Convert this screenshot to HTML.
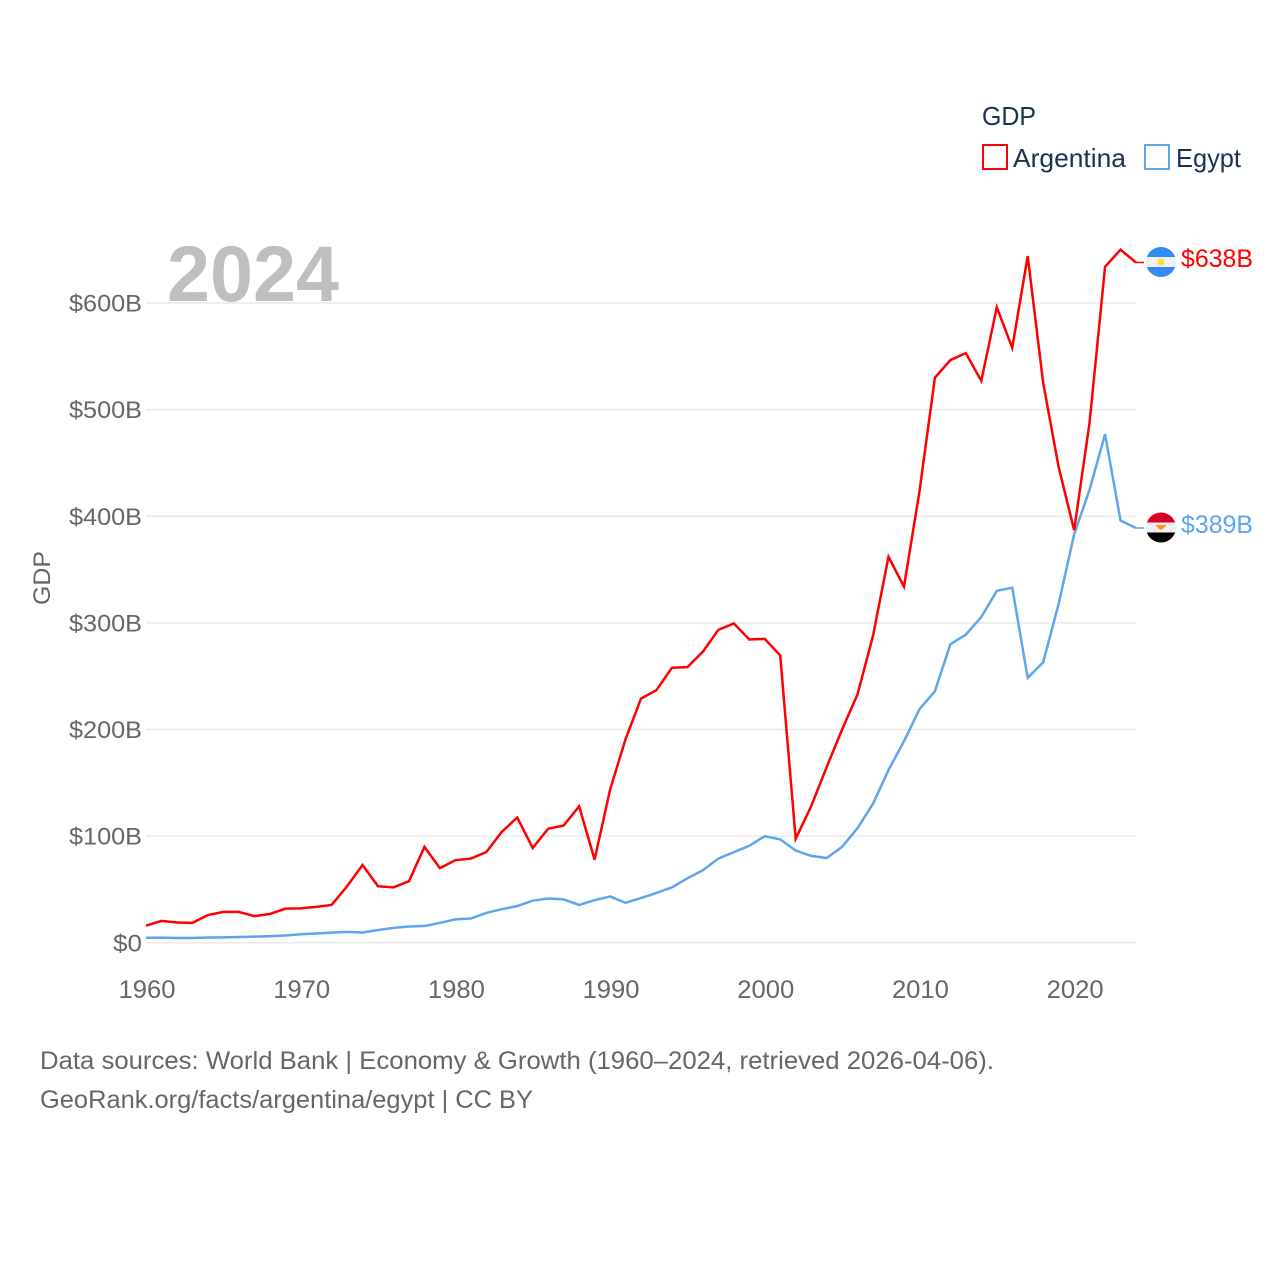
<!DOCTYPE html>
<html>
<head>
<meta charset="utf-8">
<title>GDP: Argentina and Egypt</title>
<style>
html,body{margin:0;padding:0;background:#fff;width:1280px;height:1280px;overflow:hidden}
svg{display:block}
text{font-family:"Liberation Sans",sans-serif}
</style>
</head>
<body>
<svg id="chart" xmlns="http://www.w3.org/2000/svg" width="1280" height="1280" viewBox="0 0 1280 1280">
  <rect width="1280" height="1280" fill="#fff"/>
  <g id="grid"></g>
  <text x="167" y="301" font-size="79" font-weight="700" fill="#bfbfbf" textLength="172" lengthAdjust="spacingAndGlyphs">2024</text>
  <g id="yaxis"></g>
  <g id="xaxis"></g>
  <text transform="translate(50,578) rotate(-90)" text-anchor="middle" font-size="24" fill="#666" textLength="54" lengthAdjust="spacingAndGlyphs">GDP</text>
  <g id="series"></g>

  <g>
    <text x="982" y="125" font-size="26" fill="#1a3154" textLength="54" lengthAdjust="spacingAndGlyphs">GDP</text>
    <g>
      <rect x="983" y="145" width="24" height="24" fill="#fff" stroke="#ff0000" stroke-width="2"/>
      <text x="1013" y="167" font-size="26" fill="#1a3154" textLength="113" lengthAdjust="spacingAndGlyphs">Argentina</text>
    </g>
    <g>
      <rect x="1145" y="145" width="24" height="24" fill="#fff" stroke="#5da5ee" stroke-width="2"/>
      <text x="1176" y="167" font-size="26" fill="#1a3154" textLength="65" lengthAdjust="spacingAndGlyphs">Egypt</text>
    </g>
  </g>

  <defs>
    <clipPath id="flag-clip-ar"><circle cx="1161" cy="262" r="15"/></clipPath>
    <clipPath id="flag-clip-eg"><circle cx="1161" cy="527.5" r="15"/></clipPath>
  </defs>
  <g clip-path="url(#flag-clip-ar)">
    <rect x="1146" y="247" width="30" height="10" fill="#338af3"/>
    <rect x="1146" y="257" width="30" height="10" fill="#f0f0f0"/>
    <rect x="1146" y="267" width="30" height="10" fill="#338af3"/>
    <circle cx="1161" cy="262" r="3.5" fill="#ffda44"/>
  </g>
  <g clip-path="url(#flag-clip-eg)">
    <rect x="1146" y="512.5" width="30" height="10" fill="#d80027"/>
    <rect x="1146" y="522.5" width="30" height="10" fill="#f0f0f0"/>
    <rect x="1146" y="532.5" width="30" height="10" fill="#000"/>
    <path d="M1155.5 525 L1166.5 525 L1163.5 528.5 L1161 530 L1158.5 528.5 Z" fill="#ff9811"/>
  </g>
  <text x="1181" y="267" font-size="25" fill="#ff0000" textLength="72" lengthAdjust="spacingAndGlyphs">$638B</text>
  <text x="1181" y="533" font-size="25" fill="#5da5ee" textLength="72" lengthAdjust="spacingAndGlyphs">$389B</text>

  <g>
    <text x="40" y="1069" font-size="25" fill="#666" textLength="954" lengthAdjust="spacingAndGlyphs">Data sources: World Bank | Economy &amp; Growth (1960–2024, retrieved 2026-04-06).</text>
    <text x="40" y="1108" font-size="25" fill="#666" textLength="493" lengthAdjust="spacingAndGlyphs">GeoRank.org/facts/argentina/egypt | CC BY</text>
  </g>
</svg>
<script>
var years = [1960,1961,1962,1963,1964,1965,1966,1967,1968,1969,1970,1971,1972,1973,1974,1975,1976,1977,1978,1979,1980,1981,1982,1983,1984,1985,1986,1987,1988,1989,1990,1991,1992,1993,1994,1995,1996,1997,1998,1999,2000,2001,2002,2003,2004,2005,2006,2007,2008,2009,2010,2011,2012,2013,2014,2015,2016,2017,2018,2019,2020,2021,2022,2023,2024];
var argentina = [16,20.5,19,18.7,26,29,29,25,27,32,32.3,33.7,35.5,53,73,53,52,57.7,90,70,77.5,79,85,104,117.5,89,107,110,128,78,143.5,191,229,237,258,258.5,273,293.5,299.5,284.5,285,269.5,97.5,128,164.7,200,233,288,362,334,423,530,546.5,553,527,596,558,644,525,446,387,488,634,650,638];
var egypt = [4.7,4.8,4.5,4.5,5,5.1,5.5,5.8,6.2,6.9,8,8.7,9.5,10.3,9.7,12,14,15.3,15.7,18.7,22,22.8,28,31.5,34.5,39.5,41.5,40.7,35.5,40,43.5,37.5,42,46.8,52,60.5,68,79,85,91,100,97,86.5,81.5,79.5,90,107.5,130.5,162,189,219,236,280,289,305.5,330,333,248.5,263,318,383,425,477,396,389];
var yTickValues = [0,100,200,300,400,500,600];
var yTickLabels = ["$0","$100B","$200B","$300B","$400B","$500B","$600B"];
var xTickValues = [1960,1970,1980,1990,2000,2010,2020];
var xTickLabels = ["1960","1970","1980","1990","2000","2010","2020"];

var NS = "http://www.w3.org/2000/svg";
function xScale(year){ return 146 + (year - 1960) * (1136 - 146) / 64; }
function yScale(v){ return 942.8 - v * (942.8 - 303) / 600; }
function mk(tag, attrs, parent){
  var el = document.createElementNS(NS, tag);
  for (var k in attrs) el.setAttribute(k, attrs[k]);
  parent.appendChild(el);
  return el;
}
var gridG = document.getElementById("grid");
var yG = document.getElementById("yaxis");
var xG = document.getElementById("xaxis");
var seriesG = document.getElementById("series");

yTickValues.forEach(function(v, i){
  var line = mk("line", {x1:146, x2:1136, y1:yScale(v), y2:yScale(v), stroke:"#e9e9e9", "stroke-width":1.5}, gridG);
  
  
  var t = mk("text", {x:142, y:yScale(v) + 8.5, "text-anchor":"end", "font-size":24, fill:"#666"}, yG);
  
  
  t.textContent = yTickLabels[i];
  t.setAttribute('textLength', i === 0 ? 29 : 73);
  t.setAttribute('lengthAdjust', 'spacingAndGlyphs');
});
xTickValues.forEach(function(y, i){
  var t = mk("text", {x:xScale(y) + 1, y:998, "text-anchor":"middle", "font-size":25, fill:"#666"}, xG);
  
  
  t.textContent = xTickLabels[i];
  t.setAttribute('textLength', 57);
  t.setAttribute('lengthAdjust', 'spacingAndGlyphs');
});
function pathFor(values){
  return values.map(function(v, i){
    return (i ? "L" : "M") + xScale(years[i]).toFixed(2) + " " + yScale(v).toFixed(2);
  }).join(" ");
}
var egyptLine = mk("path", {d:pathFor(egypt), fill:"none", stroke:"#5da5ee", "stroke-width":2.5, "stroke-linejoin":"miter"}, seriesG);


var argentinaLine = mk("path", {d:pathFor(argentina), fill:"none", stroke:"#ff0000", "stroke-width":2.5, "stroke-linejoin":"miter"}, seriesG);


var lastYear = years[years.length - 1];
var argConnector = mk("line", {x1:xScale(lastYear), x2:1144, y1:yScale(argentina[argentina.length - 1]), y2:yScale(argentina[argentina.length - 1]), stroke:"#ff0000", "stroke-width":1.5}, seriesG);


var egyConnector = mk("line", {x1:xScale(lastYear), x2:1144, y1:yScale(egypt[egypt.length - 1]), y2:yScale(egypt[egypt.length - 1]), stroke:"#5da5ee", "stroke-width":1.5}, seriesG);


</script>
</body>
</html>
